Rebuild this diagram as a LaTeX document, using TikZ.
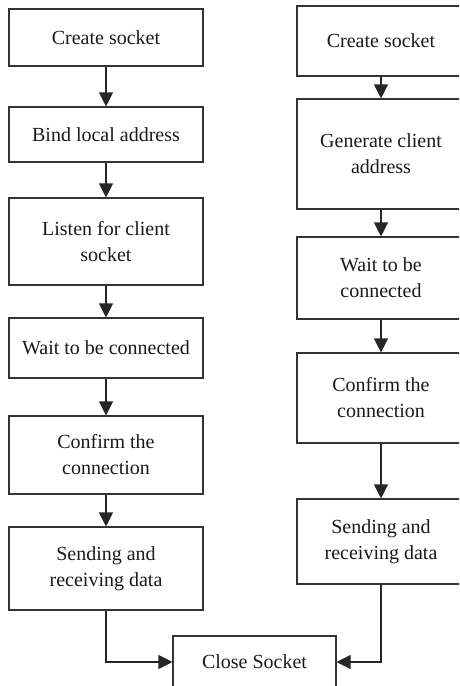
\documentclass[tikz,border=0pt]{standalone}
\usepackage{fontspec}
\setmainfont{Liberation Serif}
\usetikzlibrary{arrows.meta}

\begin{document}
\begin{tikzpicture}
    [
        x = 1pt, y = -1pt,
        every node/.append style = {font = \fontsize{20}{26}\selectfont, text = black!90},
        stage/.style = {draw = black!80, line width = 1.1pt, align = center, inner sep = 0, minimum width = #1},
        stage/.default = 194pt,
        flow/.style = {draw = black!85, line width = 1.1pt, -{Triangle[length = 14pt, width = 14pt]}}
    ]
    \useasboundingbox (0, 0) rectangle (459, 686);
    \clip (0, 0) rectangle (459, 686);

    % server side
    \node [stage, minimum height = 57pt] (srvcreate) at (106, 37.5) {Create socket};
    \node [stage, minimum height = 55pt] (srvbind) at (106, 134.5) {Bind local address};
    \node [stage, minimum height = 87pt] (srvlisten) at (106, 241.5) {Listen for client\\ socket};
    \node [stage, minimum height = 60pt] (srvwait) at (106, 348) {Wait to be connected};
    \node [stage, minimum height = 78pt] (srvconfirm) at (106, 455) {Confirm the\\ connection};
    \node [stage, minimum height = 83pt] (srvdata) at (106, 568.5) {Sending and\\ receiving data};

    % client side
    \node [stage = 168pt, minimum height = 70pt] (clicreate) at (381, 41) {Create socket};
    \node [stage = 168pt, minimum height = 110pt] (cligen) at (381, 154) {Generate client\\ address};
    \node [stage = 168pt, minimum height = 82pt] (cliwait) at (381, 278) {Wait to be\\ connected};
    \node [stage = 168pt, minimum height = 90pt] (cliconfirm) at (381, 398) {Confirm the\\ connection};
    \node [stage = 168pt, minimum height = 85pt] (clidata) at (381, 541.5) {Sending and\\ receiving data};

    \node [stage = 163pt, minimum height = 52pt] (close) at (254.5, 662) {Close Socket};

    \draw [flow] (srvcreate) -- (srvbind);
    \draw [flow] (srvbind) -- (srvlisten);
    \draw [flow] (srvlisten) -- (srvwait);
    \draw [flow] (srvwait) -- (srvconfirm);
    \draw [flow] (srvconfirm) -- (srvdata);
    \draw [flow] (srvdata.south) |- (close.west);

    \draw [flow] (clicreate) -- (cligen);
    \draw [flow] (cligen) -- (cliwait);
    \draw [flow] (cliwait) -- (cliconfirm);
    \draw [flow] (cliconfirm) -- (clidata);
    \draw [flow] (clidata.south) |- (close.east);
\end{tikzpicture}
\end{document}
